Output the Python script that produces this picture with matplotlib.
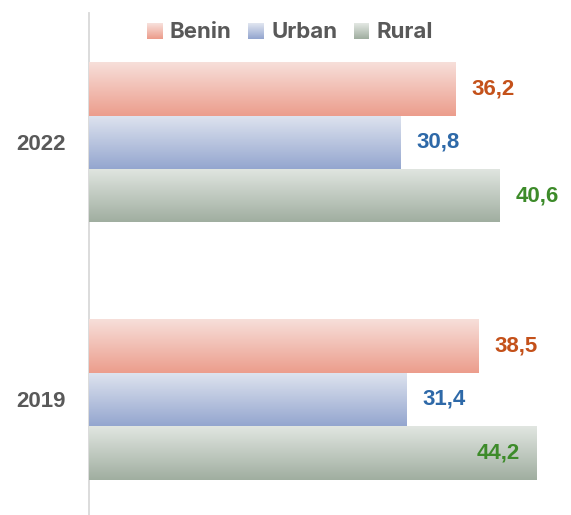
import matplotlib
matplotlib.use("Agg")
import matplotlib.pyplot as plt
import numpy as np
from matplotlib.colors import LinearSegmentedColormap
from matplotlib.patches import Rectangle
from matplotlib.legend_handler import HandlerBase

# ---- data ----
years = ["2019", "2022"]
series_names = ["Benin", "Urban", "Rural"]
benin = [38.5, 36.2]
urban = [31.4, 30.8]
rural = [44.2, 40.6]
label_texts = {
    "Benin": ["38,5", "36,2"],
    "Urban": ["31,4", "30,8"],
    "Rural": ["44,2", "40,6"],
}

# ---- styles ----
grad = {
    "Benin": ("#F7DFDA", "#EC9D8C"),
    "Urban": ("#DFE4EF", "#94A6CF"),
    "Rural": ("#E1E6E1", "#A0AEA0"),
}
label_colors = {"Benin": "#C4511A", "Urban": "#2E69A8", "Rural": "#3D8B2A"}
text_gray = "#595959"

fig = plt.figure(figsize=(5.71, 5.15), dpi=100)
W, H = 571, 515
ax = fig.add_axes([89 / W, 0, 1 - 89 / W, 1 - 13 / H])

ypos = np.arange(len(years))
h = 0.208
offsets = {"Benin": h, "Urban": 0.0, "Rural": -h}
values = {"Benin": benin, "Urban": urban, "Rural": rural}

xmax = (W - 89) / 10.12
ax.set_xlim(0, xmax)
ax.set_ylim(-0.450, 1.503)

for name in series_names:
    c0, c1 = grad[name]
    cmap = LinearSegmentedColormap.from_list(name, [c0, c1])
    bars = ax.barh(ypos + offsets[name], values[name], height=h,
                   color=c1, edgecolor="none", zorder=2)
    g = np.linspace(0, 1, 256).reshape(-1, 1)
    for bar in bars:
        x0, y0 = bar.get_x(), bar.get_y()
        bw, bh = bar.get_width(), bar.get_height()
        im = ax.imshow(g, cmap=cmap, aspect="auto",
                       extent=(x0, x0 + bw, y0, y0 + bh),
                       origin="upper", zorder=3, interpolation="bilinear")
        im.set_clip_path(bar)
    # labels
    for i, v in enumerate(values[name]):
        y = ypos[i] + offsets[name]
        inside = v + (16 + 46) / 10.12 > xmax
        if inside:
            ax.annotate(label_texts[name][i], xy=(v, y), xytext=(-11.5, 0),
                        textcoords="offset points", ha="right", va="center",
                        fontsize=16, fontweight="bold", color=label_colors[name],
                        family="Liberation Sans", zorder=5)
        else:
            ax.annotate(label_texts[name][i], xy=(v, y), xytext=(11.5, 0),
                        textcoords="offset points", ha="left", va="center",
                        fontsize=16, fontweight="bold", color=label_colors[name],
                        family="Liberation Sans", zorder=5)

ax.set_yticks(ypos)
ax.set_yticklabels(years, fontsize=16, fontweight="bold", color=text_gray,
                   family="Liberation Sans")
ax.tick_params(axis="y", length=0, pad=16.5)
ax.set_xticks([])
for s in ["top", "right", "bottom"]:
    ax.spines[s].set_visible(False)
ax.spines["left"].set_color("#D9D9D9")
ax.spines["left"].set_linewidth(1.3)
ax.set_facecolor("none")


class GradHandler(HandlerBase):
    def __init__(self, c0, c1, n=16):
        super().__init__()
        self.c0 = np.array(matplotlib.colors.to_rgb(c0))
        self.c1 = np.array(matplotlib.colors.to_rgb(c1))
        self.n = n

    def create_artists(self, legend, orig_handle, xdescent, ydescent,
                       width, height, fontsize, trans):
        arts = []
        side = min(width, height)
        x0 = -xdescent + (width - side) / 2
        y0 = -ydescent + (height - side) / 2
        for k in range(self.n):
            t = k / (self.n - 1)
            col = self.c0 * (1 - t) + self.c1 * t
            yy = y0 + side * (1 - (k + 1) / self.n)
            r = Rectangle((x0, yy), side, side / self.n, facecolor=col,
                          edgecolor="none", transform=trans)
            arts.append(r)
        return arts


handles = [Rectangle((0, 0), 1, 1) for _ in series_names]
hmap = {hd: GradHandler(*grad[n]) for hd, n in zip(handles, series_names)}
leg = fig.legend(handles, series_names, loc="center",
                 bbox_to_anchor=(290 / W, 1 - 32.5 / H), ncol=3, frameon=False,
                 handler_map=hmap,
                 prop={"family": "Inter", "weight": "bold", "size": 16},
                 handlelength=0.7, handleheight=0.7, handletextpad=0.32,
                 columnspacing=0.75, borderpad=0)
for t in leg.get_texts():
    t.set_color(text_gray)

fig.savefig("out.png", dpi=100)
